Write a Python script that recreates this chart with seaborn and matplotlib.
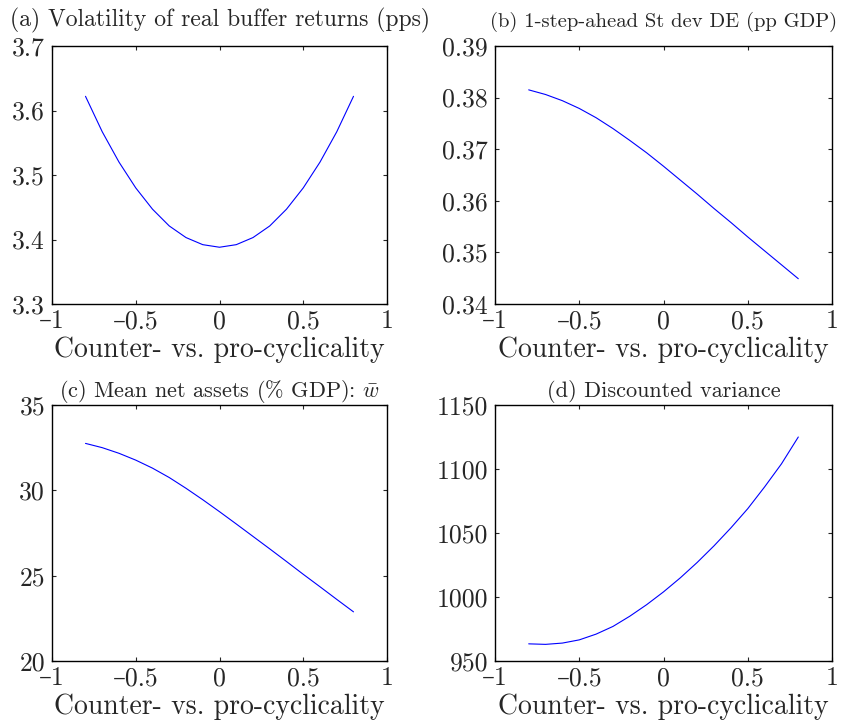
import numpy as np
import seaborn as sns
import matplotlib
matplotlib.use("Agg")
import matplotlib.pyplot as plt
from matplotlib.ticker import FuncFormatter, FixedLocator
import pandas as pd

# data
cyclicality = [-0.8, -0.7, -0.6, -0.5, -0.4, -0.3, -0.2, -0.1, 0.0,
               0.1, 0.2, 0.3, 0.4, 0.5, 0.6, 0.7, 0.8]

volatility = [3.622, 3.567, 3.520, 3.480, 3.447, 3.421, 3.403, 3.392, 3.388,
              3.392, 3.403, 3.421, 3.447, 3.480, 3.520, 3.567, 3.622]

stdev_de = [0.3815, 0.3806, 0.3794, 0.3779, 0.3761, 0.3740, 0.3717, 0.3693, 0.3667,
            0.3640, 0.3613, 0.3585, 0.3558, 0.3530, 0.3503, 0.3476, 0.3449]

net_assets = [32.75, 32.50, 32.17, 31.77, 31.30, 30.75, 30.12, 29.45, 28.75,
              28.03, 27.30, 26.57, 25.83, 25.08, 24.35, 23.61, 22.88]

disc_var = [963.4, 963.0, 964.0, 966.5, 971.0, 977.0, 985.0, 994.0, 1004.0,
            1015.0, 1027.0, 1040.0, 1054.0, 1069.0, 1086.0, 1104.0, 1125.0]

titles = ["(a) Volatility of real buffer returns (pps)",
          "(b) 1-step-ahead St dev DE (pp GDP)",
          "(c) Mean net assets (% GDP): $\\bar{w}$",
          "(d) Discounted variance"]
xlabel = "Counter- vs. pro-cyclicality"
xticks = [-1, -0.5, 0, 0.5, 1]
yticks_a = [3.3, 3.4, 3.5, 3.6, 3.7]
yticks_b = [0.34, 0.35, 0.36, 0.37, 0.38, 0.39]
yticks_c = [20, 25, 30, 35]
yticks_d = [950, 1000, 1050, 1100, 1150]

sns.set_style("ticks")
plt.rcParams["font.family"] = ["cmr10", "DejaVu Serif"]
plt.rcParams["mathtext.fontset"] = "cm"
plt.rcParams["axes.unicode_minus"] = False
plt.rcParams["xtick.direction"] = "in"
plt.rcParams["ytick.direction"] = "in"


def fmt(v, pos):
    s = ("%g" % v)
    return s.replace("-", "\u2013")


W, H = 852, 727
fig = plt.figure(figsize=(W / 100, H / 100), dpi=100)

# (left, top, right, bottom) in pixels
boxes = [(52, 46, 387, 304), (495, 46, 832, 304),
         (52, 405, 387, 661), (495, 405, 832, 661)]
series = [volatility, stdev_de, net_assets, disc_var]
yticks = [yticks_a, yticks_b, yticks_c, yticks_d]
title_sizes = [17, 14.8, 16, 16]
title_pads = [14, 14, 6, 6]

for i in range(4):
    l, t, r, b = boxes[i]
    ax = fig.add_axes([l / W, 1 - b / H, (r - l) / W, (b - t) / H])
    df = pd.DataFrame({"x": cyclicality, "y": series[i]})
    sns.lineplot(data=df, x="x", y="y", ax=ax, color="#0000ff", linewidth=0.8)
    ax.set_xlim(-1, 1)
    ax.set_ylim(yticks[i][0], yticks[i][-1])
    ax.xaxis.set_major_locator(FixedLocator(xticks))
    ax.yaxis.set_major_locator(FixedLocator(yticks[i]))
    ax.xaxis.set_major_formatter(FuncFormatter(fmt))
    ax.yaxis.set_major_formatter(FuncFormatter(fmt))
    ax.tick_params(top=True, right=True, labelsize=18.5, length=3, width=0.8)
    ax.tick_params(axis="x", pad=4)
    ax.tick_params(axis="y", pad=5)
    for sp in ax.spines.values():
        sp.set_visible(True)
        sp.set_linewidth(1.0)
        sp.set_color("black")
    ax.set_xlabel(xlabel, fontsize=20, labelpad=2)
    ax.set_ylabel("")
    ax.set_title(titles[i], fontsize=title_sizes[i], pad=title_pads[i])

fig.savefig("out.png", dpi=100)
